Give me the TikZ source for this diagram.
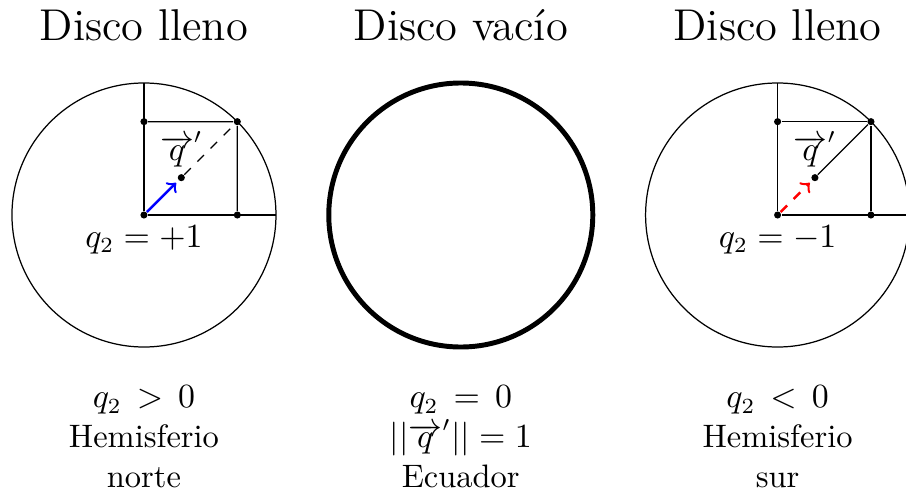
\documentclass[tikz,border=0pt]{standalone}
\usetikzlibrary{positioning}
\begin{document}
\begin{tikzpicture}[every node/.style={font=\fontsize{10.5}{12.9}\selectfont},
    punto/.style={circle, fill, inner sep=0pt, minimum size=2.3pt},
    titulo/.style={font=\Large, anchor=base},
    leyenda/.style={align=center, anchor=north}]
    \useasboundingbox (-1.636,-3.159) rectangle (8.659,2.443);

    \node[titulo] (tn) at (0,1.98) {Disco lleno};
    \node[titulo] (te) at (3.6,1.98) {Disco vacío};
    \node[titulo] (ts) at (7.2,1.98) {Disco lleno};

    \draw (0,0) circle (1.5);
    \node[punto] (on) at (0,0) {};
    \node[punto] (an) at (0,1.0607) {};
    \node[punto] (bn) at (45:1.5) {};
    \node[punto] (cn) at (1.0607,0) {};
    \node[punto] (mn) at (45:0.6) {};
    \coordinate (nn) at (0,1.5);
    \coordinate (en) at (1.5,0);
    \draw (on) -- (nn);
    \draw (on) -- (en);
    \draw (an) -- (bn) -- (cn);
    \draw[dashed] (mn) -- (bn);
    \draw[->, thick, blue, shorten >=1pt] (on) -- (mn);
    \node[above] (qn) at (mn) {$\overrightarrow{q}'$};
    \node[below] (vn) at (on) {$q_2=+1$};

    \draw[ultra thick] (3.6,0) circle (1.5);

    \draw (7.2,0) circle (1.5);
    \node[punto] (os) at (7.2,0) {};
    \node[punto] (as) at (7.2,1.0607) {};
    \node[punto] (bs) at (8.2607,1.0607) {};
    \node[punto] (cs) at (8.2607,0) {};
    \node[punto] (ms) at (7.6243,0.4243) {};
    \coordinate (ns) at (7.2,1.5);
    \coordinate (es) at (8.7,0);
    \draw (os) -- (ns);
    \draw (os) -- (es);
    \draw (as) -- (bs) -- (cs);
    \draw (ms) -- (bs);
    \draw[->, thick, red, dashed, shorten >=1pt] (os) -- (ms);
    \node[above] (qs) at (ms) {$\overrightarrow{q}'$};
    \node[below] (vs) at (os) {$q_2=-1$};

    \node[leyenda] (pn) at (0,-1.82) {$q_2\,>\,0$\\Hemisferio\\norte};
    \node[leyenda] (pe) at (3.6,-1.82) {$q_2\,=\,0$\\$||\overrightarrow{q}'||=1$\\Ecuador};
    \node[leyenda] (ps) at (7.2,-1.82) {$q_2\,<\,0$\\Hemisferio\\sur};
\end{tikzpicture}
\end{document}
